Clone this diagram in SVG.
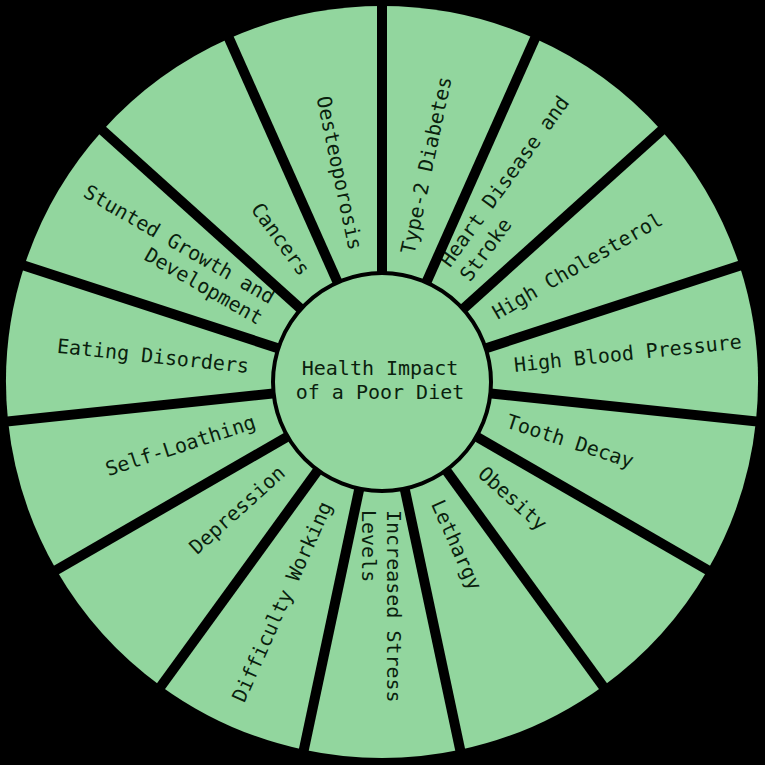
<svg xmlns="http://www.w3.org/2000/svg" width="765" height="765" viewBox="0 0 765 765">
<style>
.w{fill:#92d69e;}
.t{font-family:"DejaVu Sans Mono","Liberation Mono",monospace;font-size:20px;fill:#0a1f0e;}
.s{text-anchor:start;}
.e{text-anchor:end;}
.sep{stroke:#000;stroke-width:10;stroke-linecap:butt;}
</style>
<rect width="765" height="765" fill="#000"/>
<g id="segments">
<g id="type2"><path class="w" d="M382 382 L382 6 A376 376 0 0 1 534.93 38.51 Z"/><text class="t s" transform="translate(382 382) rotate(-78)" x="131" y="5">Type-2 Diabetes</text></g>
<g id="heart"><path class="w" d="M382 382 L534.93 38.51 A376 376 0 0 1 661.42 130.41 Z"/><text class="t s" transform="translate(382 382) rotate(-54)"><tspan x="132" y="-12">Heart Disease and</tspan><tspan x="132" y="13">Stroke</tspan></text></g>
<g id="cholesterol"><path class="w" d="M382 382 L661.42 130.41 A376 376 0 0 1 739.60 265.81 Z"/><text class="t s" transform="translate(382 382) rotate(-30)" x="131" y="4">High Cholesterol</text></g>
<g id="bloodpressure"><path class="w" d="M382 382 L739.60 265.81 A376 376 0 0 1 755.94 421.30 Z"/><text class="t s" transform="translate(382 382) rotate(-6)" x="133" y="4">High Blood Pressure</text></g>
<g id="tooth"><path class="w" d="M382 382 L755.94 421.30 A376 376 0 0 1 707.63 570 Z"/><text class="t s" transform="translate(382 382) rotate(18)" x="131" y="5">Tooth Decay</text></g>
<g id="obesity"><path class="w" d="M382 382 L707.63 570 A376 376 0 0 1 603.01 686.19 Z"/><text class="t s" transform="translate(382 382) rotate(42)" x="133" y="6">Obesity</text></g>
<g id="lethargy"><path class="w" d="M382 382 L603.01 686.19 A376 376 0 0 1 460.17 749.78 Z"/><text class="t s" transform="translate(382 382) rotate(66)" x="131" y="5">Lethargy</text></g>
<g id="stress"><path class="w" d="M382 382 L460.17 749.78 A376 376 0 0 1 303.83 749.78 Z"/><text class="t s" transform="translate(382 382) rotate(90)"><tspan x="128" y="-5">Increased Stress</tspan><tspan x="128" y="20">Levels</tspan></text></g>
<g id="difficulty"><path class="w" d="M382 382 L303.83 749.78 A376 376 0 0 1 160.99 686.19 Z"/><text class="t e" transform="translate(382 382) rotate(-66)" x="-133" y="5">Difficulty Working</text></g>
<g id="depression"><path class="w" d="M382 382 L160.99 686.19 A376 376 0 0 1 56.37 570 Z"/><text class="t e" transform="translate(382 382) rotate(-42)" x="-133" y="5">Depression</text></g>
<g id="selfloathing"><path class="w" d="M382 382 L56.37 570 A376 376 0 0 1 8.06 421.30 Z"/><text class="t e" transform="translate(382 382) rotate(-18)" x="-133" y="5">Self-Loathing</text></g>
<g id="eating"><path class="w" d="M382 382 L8.06 421.30 A376 376 0 0 1 24.40 265.81 Z"/><text class="t e" transform="translate(382 382) rotate(6)" x="-134" y="5">Eating Disorders</text></g>
<g id="stunted"><path class="w" d="M382 382 L24.40 265.81 A376 376 0 0 1 102.58 130.41 Z"/><text class="t e" transform="translate(382 382) rotate(30)"><tspan x="-136" y="-11">Stunted Growth and</tspan><tspan x="-136" y="13">Development</tspan></text></g>
<g id="cancers"><path class="w" d="M382 382 L102.58 130.41 A376 376 0 0 1 229.07 38.51 Z"/><text class="t e" transform="translate(382 382) rotate(54)" x="-133" y="5">Cancers</text></g>
<g id="osteoporosis"><path class="w" d="M382 382 L229.07 38.51 A376 376 0 0 1 382 6 Z"/><text class="t e" transform="translate(382 382) rotate(78)" x="-135" y="5">Oesteoporosis</text></g>
</g>
<g id="connectors">
<line class="sep" x1="382" y1="382" x2="382" y2="-10"/>
<line class="sep" x1="382" y1="382" x2="541.44" y2="23.89"/>
<line class="sep" x1="382" y1="382" x2="673.31" y2="119.70"/>
<line class="sep" x1="382" y1="382" x2="754.82" y2="260.86"/>
<line class="sep" x1="382" y1="382" x2="771.85" y2="422.98"/>
<line class="sep" x1="382" y1="382" x2="721.48" y2="578"/>
<line class="sep" x1="382" y1="382" x2="612.41" y2="699.14"/>
<line class="sep" x1="382" y1="382" x2="463.50" y2="765.43"/>
<line class="sep" x1="382" y1="382" x2="300.50" y2="765.43"/>
<line class="sep" x1="382" y1="382" x2="151.59" y2="699.14"/>
<line class="sep" x1="382" y1="382" x2="42.52" y2="578"/>
<line class="sep" x1="382" y1="382" x2="-7.85" y2="422.98"/>
<line class="sep" x1="382" y1="382" x2="9.18" y2="260.86"/>
<line class="sep" x1="382" y1="382" x2="90.69" y2="119.70"/>
<line class="sep" x1="382" y1="382" x2="222.56" y2="23.89"/>
</g>
<g id="center">
<circle cx="382" cy="382" r="109" fill="#92d69e" stroke="#000" stroke-width="4"/>
<text class="t" text-anchor="middle" x="380" y="375">Health Impact</text>
<text class="t" text-anchor="middle" x="380" y="399">of a Poor Diet</text>
</g>
</svg>
